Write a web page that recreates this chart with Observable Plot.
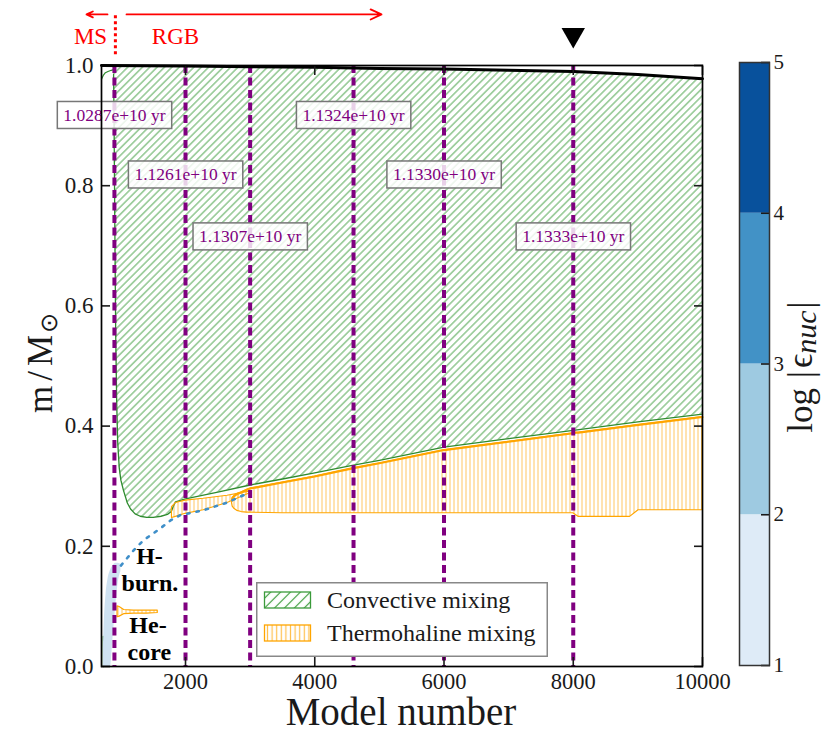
<!DOCTYPE html>
<html><head><meta charset="utf-8">
<script src="https://cdn.jsdelivr.net/npm/d3@7"></script>
<script src="https://cdn.jsdelivr.net/npm/@observablehq/plot@0.6"></script>
<style>
body{margin:0;background:#fff;}
#wrap{position:relative;width:825px;height:734px;font-family:"Liberation Serif",serif;}
#wrap svg{position:absolute;}
</style></head><body><div id="wrap"></div>
<script>
// ---------- data ----------
const xTicks = [2000, 4000, 6000, 8000, 10000];
const yTicks = [0, 0.2, 0.4, 0.6, 0.8, 1.0];
const cbTicks = [1, 2, 3, 4, 5];

const surfaceModel = [700, 2000, 3000, 4000, 5000, 6000, 7000, 8000, 9000, 10000];
const surfaceMass  = [1.0, 0.999, 0.998, 0.997, 0.995, 0.994, 0.992, 0.99, 0.985, 0.978];

const convModel  = [887, 895, 905, 920, 935, 950, 975, 1000, 1040, 1100, 1150, 1220, 1300, 1400, 1500, 1620, 1720, 1780, 1810, 1845,
                    2000, 2500, 3000, 3500, 4000, 4600, 5000, 6000, 7000, 8000, 9000, 10000];
const convBottom = [0.985, 0.9, 0.75, 0.55, 0.44, 0.375, 0.33, 0.31, 0.293, 0.272, 0.262, 0.254, 0.25, 0.248, 0.248, 0.25, 0.253, 0.258, 0.266, 0.274,
                    0.279, 0.29, 0.302, 0.312, 0.322, 0.335, 0.343, 0.365, 0.379, 0.393, 0.407, 0.42];
const convTop    = [1, 1, 1, 1, 1, 1, 1, 1, 1, 1, 1, 1, 1, 1, 1, 1, 1, 1, 1, 1,
                    0.999, 0.999, 0.998, 0.998, 0.997, 0.996, 0.995, 0.994, 0.992, 0.99, 0.985, 0.978];

const msConvModel = [700, 730, 760, 800, 850, 890];
const msConvMass  = [0.977, 0.984, 0.988, 0.99, 0.992, 0.993];
const coreConvModel = [729, 731];
const coreConvMass  = [0.05, 0.0];

const thermoAModel  = [1790, 1850, 2000, 2280, 2650, 2990];
const thermoABottom = [0.247, 0.249, 0.254, 0.26, 0.272, 0.288];
const thermoATop    = [0.265, 0.272, 0.276, 0.279, 0.284, 0.291];

const thermoBModel  = [2720, 2730, 2760, 2800, 2870, 2950, 3000, 3500, 4000, 4600, 5000, 6000, 7000, 8000, 8040, 8080, 8880, 9010, 10000];
const thermoBBottom = [0.272, 0.266, 0.262, 0.259, 0.257, 0.256, 0.256, 0.255, 0.255, 0.255, 0.255, 0.255, 0.255, 0.255, 0.252, 0.249, 0.249, 0.26, 0.26];
const thermoBTop    = [0.276, 0.281, 0.284, 0.287, 0.29, 0.294, 0.296, 0.306, 0.316, 0.33, 0.338, 0.36, 0.374, 0.388, 0.389, 0.389, 0.4, 0.402, 0.415];

const thermoCModel  = [948, 980, 1050, 1200, 1400, 1570];
const thermoCBottom = [0.082, 0.083, 0.087, 0.088, 0.088, 0.089];
const thermoCTop    = [0.1, 0.099, 0.094, 0.093, 0.093, 0.093];

const burnModel  = [728, 745, 770, 800, 840, 880, 920, 960, 1000];
const burnBottom = [0, 0, 0, 0, 0, 0.05, 0.1, 0.14, 0.158];
const burnTop    = [0.03, 0.08, 0.12, 0.145, 0.16, 0.168, 0.172, 0.172, 0.17];

const shellModel = [1000, 1040, 1195, 1350, 1613, 1768, 1922, 2278, 2650, 2960];
const shellMass  = [0.168, 0.173, 0.193, 0.21, 0.23, 0.243, 0.252, 0.26, 0.273, 0.288];

const ageModel = [900, 2000, 3000, 4600, 6000, 8000];
const ageLabels = ["1.0287e+10 yr", "1.1261e+10 yr", "1.1307e+10 yr", "1.1324e+10 yr", "1.1330e+10 yr", "1.1333e+10 yr"];
const ageLabelMass = [0.917, 0.818, 0.715, 0.917, 0.818, 0.715];

const regionLabels = ["H-", "burn.", "He-", "core"];
const regionModel  = [1443, 1450, 1420, 1440];
const regionMass   = [0.183, 0.138, 0.068, 0.023];

const phaseLabels = ["MS", "RGB"];
const phaseModel  = [530, 1845];
const phaseMass   = [1.048, 1.048];
const arrowFrom = [793, 1087];
const arrowTo   = [468, 5033];
const arrowMass = [1.085, 1.085];
const msBoundaryModel = [915];
const msBoundaryMass  = [1.018, 1.087];
const markerModel = [8000];
const markerMass  = [1.051];

const cbLow = [1, 2, 3, 4];
const cbHigh = [2, 3, 4, 5];
const cbColors = ["#deebf7", "#9ecae1", "#4292c6", "#08519c"];

const legendLabels = ["Convective mixing", "Thermohaline mixing"];

// ---------- main plot ----------
const FONT = "Liberation Serif, serif";
const green = "#2e8b2e", orange = "#ffa500", purple = "#800080";

const main = Plot.plot({
  width: 825, height: 734,
  marginLeft: 101, marginRight: 123, marginTop: 65, marginBottom: 68,
  style: {fontFamily: FONT, fontSize: "23px", background: "white", color: "#1a1a1a"},
  x: {domain: [700, 10000]},
  y: {domain: [0, 1]},
  marks: [
    Plot.areaY(convModel, {x: convModel, y1: convBottom, y2: convTop, fill: "url(#hatchGreen)"}),
    Plot.line(convModel, {x: convModel, y: convBottom, stroke: green, strokeWidth: 1.3}),
    Plot.line(msConvModel, {x: msConvModel, y: msConvMass, stroke: green, strokeWidth: 1.2}),
    Plot.line(coreConvModel, {x: coreConvModel, y: coreConvMass, stroke: green, strokeWidth: 1.5}),
    Plot.areaY(burnModel, {x: burnModel, y1: burnBottom, y2: burnTop, fill: "#cfe2f2", curve: "monotone-x"}),
    Plot.areaY(thermoAModel, {x: thermoAModel, y1: thermoABottom, y2: thermoATop, fill: "url(#hatchOrange)", stroke: orange, strokeWidth: 1.1}),
    Plot.areaY(thermoBModel, {x: thermoBModel, y1: thermoBBottom, y2: thermoBTop, fill: "url(#hatchOrange)", stroke: orange, strokeWidth: 1.2}),
    Plot.line(thermoBModel, {x: thermoBModel, y: thermoBTop, stroke: orange, strokeWidth: 2}),
    Plot.areaY(thermoCModel, {x: thermoCModel, y1: thermoCBottom, y2: thermoCTop, fill: "url(#hatchOrange)", stroke: orange, strokeWidth: 1.2}),
    Plot.line(shellModel, {x: shellModel, y: shellMass, stroke: "#3f8fc9", strokeWidth: 2.6, strokeDasharray: "2.5,7"}),
    Plot.ruleX(ageModel, {x: ageModel, stroke: purple, strokeWidth: 4, strokeDasharray: "8,4.5"}),
    Plot.text(ageLabels, {x: ageModel, y: ageLabelMass, text: ageLabels, fill: purple, fontSize: 17.5, lineAnchor: "middle"}),
    Plot.line(surfaceModel, {x: surfaceModel, y: surfaceMass, stroke: "black", strokeWidth: 3}),
    Plot.text(regionLabels, {x: regionModel, y: regionMass, text: regionLabels, fontSize: 24, fontWeight: "bold", fill: "black", lineAnchor: "middle"}),
    // annotations above the frame
    Plot.text(phaseLabels, {x: phaseModel, y: phaseMass, text: phaseLabels, fill: "red", fontSize: 23, lineAnchor: "middle"}),
    Plot.arrow(arrowFrom, {x1: arrowFrom, x2: arrowTo, y1: arrowMass, y2: arrowMass, stroke: "red", strokeWidth: 1.8, headLength: 10, headAngle: 50}),
    Plot.ruleX(msBoundaryModel, {x: msBoundaryModel, y1: msBoundaryMass[0], y2: msBoundaryMass[1], stroke: "red", strokeWidth: 3, strokeDasharray: "3,3"}),
    Plot.dot(markerModel, {x: markerModel, y: markerMass, symbol: "triangle", r: 8.7, fill: "black", rotate: 180}),
    // axes
    Plot.axisX(xTicks, {anchor: "bottom", tickSize: -9, tickPadding: 16, fontSize: 22.5, tickFormat: d3.format("d"), label: null, strokeWidth: 1.6}),
    Plot.axisX(xTicks, {anchor: "top", tickSize: -9, tickFormat: () => "", label: null, strokeWidth: 1.6}),
    Plot.axisY(yTicks, {anchor: "left", tickSize: -9, tickPadding: 17, tickFormat: d3.format(".1f"), label: null, strokeWidth: 1.6}),
    Plot.axisY(yTicks, {anchor: "right", tickSize: -9, tickFormat: () => "", label: null, strokeWidth: 1.6}),
    Plot.frame({stroke: "black", strokeWidth: 1.7})
  ]
});

const wrap = document.getElementById("wrap");
wrap.appendChild(main);
const svg = d3.select(main);
const defs = svg.insert("defs", ":first-child");
const pg = defs.append("pattern").attr("id", "hatchGreen").attr("patternUnits", "userSpaceOnUse")
  .attr("width", 5.2).attr("height", 5.2).attr("patternTransform", "rotate(45)");
pg.append("line").attr("x1", 2.6).attr("y1", -1).attr("x2", 2.6).attr("y2", 6.2)
  .attr("stroke", "#2f952f").attr("stroke-width", 0.95).attr("stroke-opacity", 0.85);
const po = defs.append("pattern").attr("id", "hatchOrange").attr("patternUnits", "userSpaceOnUse")
  .attr("width", 4).attr("height", 4);
po.append("line").attr("x1", 2).attr("y1", -1).attr("x2", 2).attr("y2", 5)
  .attr("stroke", "#ffb020").attr("stroke-width", 1.1).attr("stroke-opacity", 0.65);

// boxes behind age labels
svg.selectAll("text").filter(function () { return ageLabels.includes(this.textContent); }).each(function () {
  const bb = this.getBBox();
  const r = document.createElementNS("http://www.w3.org/2000/svg", "rect");
  const w = bb.width + 12, h = 27;
  r.setAttribute("x", bb.x + bb.width / 2 - w / 2);
  r.setAttribute("y", bb.y + bb.height / 2 - h / 2);
  r.setAttribute("width", w);
  r.setAttribute("height", h);
  r.setAttribute("fill", "white");
  r.setAttribute("fill-opacity", 0.82);
  r.setAttribute("stroke", "#777");
  r.setAttribute("stroke-width", 1.5);
  const t = this.getAttribute("transform");
  if (t) r.setAttribute("transform", t);
  this.parentNode.insertBefore(r, this);
});

// axis titles
svg.append("text").attr("x", 401).attr("y", 725).attr("text-anchor", "middle")
  .attr("font-family", FONT).attr("font-size", 39).attr("fill", "#1a1a1a").text("Model number");
const yl = svg.append("text").attr("transform", "translate(52,363) rotate(-90)").attr("text-anchor", "middle")
  .attr("font-family", FONT).attr("font-size", 35).attr("fill", "#1a1a1a");
yl.append("tspan").text("m");
yl.append("tspan").attr("dx", 5).text("/");
yl.append("tspan").attr("dx", 5).text("M");
yl.append("tspan").attr("dx", 2).attr("dy", 5).attr("font-size", 24).text("⊙");

// ---------- colorbar ----------
const cb = Plot.plot({
  width: 86, height: 734,
  marginLeft: 0, marginRight: 56, marginTop: 62, marginBottom: 69,
  style: {fontFamily: FONT, fontSize: "21px", background: "transparent", color: "#1a1a1a", overflow: "visible"},
  x: {domain: [0, 1], axis: null},
  y: {domain: [1, 5]},
  color: {type: "identity"},
  marks: [
    Plot.rect(cbColors, {x1: 0, x2: 1, y1: cbLow, y2: cbHigh, fill: cbColors}),
    Plot.axisY(cbTicks, {anchor: "right", tickSize: -9, tickPadding: 13, tickFormat: d3.format("d"), label: null, strokeWidth: 1.6}),
    Plot.frame({stroke: "#333", strokeWidth: 1.5})
  ]
});
cb.style.left = "739px";
cb.style.top = "0px";
wrap.appendChild(cb);
const cl = d3.select(cb).append("text").attr("transform", "translate(73,367) rotate(-90)").attr("text-anchor", "middle")
  .attr("font-family", FONT).attr("font-size", 35).attr("fill", "#1a1a1a");
cl.append("tspan").text("log");
cl.append("tspan").attr("dx", 10).text("|");
cl.append("tspan").attr("dx", 3).text("ϵ");
cl.append("tspan").attr("dy", 4).attr("font-style", "italic").attr("font-size", 30).text("nuc");
cl.append("tspan").attr("dy", -4).attr("dx", 2).text("|");

// ---------- legend ----------
const lg = d3.select(wrap).append("svg").attr("width", 292).attr("height", 75)
  .style("left", "256px").style("top", "582px");
const ldefs = lg.append("defs");
const lpg = ldefs.append("pattern").attr("id", "lgGreen").attr("patternUnits", "userSpaceOnUse")
  .attr("width", 7).attr("height", 7).attr("patternTransform", "rotate(45)");
lpg.append("line").attr("x1", 3.5).attr("y1", -1).attr("x2", 3.5).attr("y2", 8).attr("stroke", "#3c9c3c").attr("stroke-width", 1.2);
const lpo = ldefs.append("pattern").attr("id", "lgOrange").attr("patternUnits", "userSpaceOnUse")
  .attr("width", 4.6).attr("height", 4.6);
lpo.append("line").attr("x1", 2.3).attr("y1", -1).attr("x2", 2.3).attr("y2", 6).attr("stroke", "#ffb020").attr("stroke-width", 1.2).attr("stroke-opacity", 0.8);
lg.append("rect").attr("x", 0.75).attr("y", 0.75).attr("width", 290.5).attr("height", 73.5)
  .attr("fill", "white").attr("stroke", "#888").attr("stroke-width", 1.5);
const swatches = [["url(#lgGreen)", "#3a9a3a"], ["url(#lgOrange)", orange]];
legendLabels.forEach((lab, i) => {
  const y0 = i === 0 ? 10 : 43;
  lg.append("rect").attr("x", 8.5).attr("y", y0).attr("width", 46).attr("height", 16)
    .attr("fill", swatches[i][0]).attr("stroke", swatches[i][1]).attr("stroke-width", 1.3);
  lg.append("text").attr("x", 71).attr("y", y0 + 15.5).attr("font-family", FONT).attr("font-size", 24)
    .attr("fill", "#1a1a1a").text(lab);
});
</script></body></html>
